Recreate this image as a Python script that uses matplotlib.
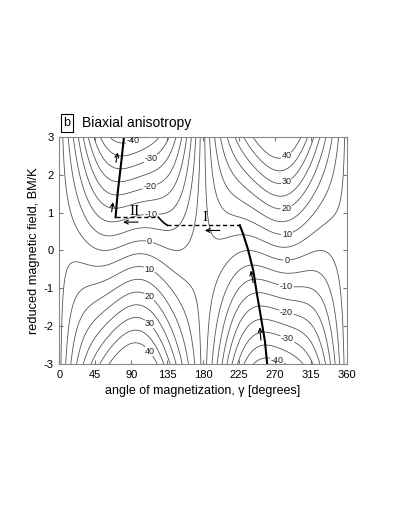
import numpy as np
import matplotlib.pyplot as plt

plt.rcParams['font.family'] = ['Liberation Sans', 'DejaVu Sans']
plt.rcParams['axes.unicode_minus'] = False

# energy surface parameters (biaxial anisotropy + field along 90 deg)
easy_axis_deg = 57.0
energy_scale = 15.0
plain_levels = [-35, -25, -15, -5, 5, 15, 25, 35]
label_levels = [-40, -30, -20, -10, 0, 10, 20, 30, 40]

x_ticks = [0, 45, 90, 135, 180, 225, 270, 315, 360]
y_ticks = [-3, -2, -1, 0, 1, 2, 3]

# contour label positions (gamma, b)
label_pos = [(94, 2.83), (115, 2.41), (113, 1.70), (115, 0.96), (113, 0.23),
             (113, -0.49), (113, -1.21), (113, -1.93), (113, -2.66),
             (284, 2.52), (284, 1.84), (284, 1.14), (285, 0.43), (285, -0.28),
             (284, -0.96), (284, -1.68), (285, -2.37), (274, -2.85)]

# magnetization trajectory branches
left_gamma = [81.0, 78.5, 76.0, 73.0, 70.5]
left_b = [3.0, 2.5, 2.04, 1.5, 0.88]
right_gamma = [260.3, 257.5, 252.4, 247.5, 242.8, 236.0, 230.0, 226.0]
right_b = [-3.0, -2.4, -1.75, -1.15, -0.52, 0.05, 0.45, 0.665]
jump2_gamma = [70.5, 123.0]
jump2_b = [0.89, 0.89]
meta_gamma = [124.0, 127.5, 131.5, 135.5]
meta_b = [0.88, 0.80, 0.72, 0.665]
jump1_gamma = [135.5, 226.0]
jump1_b = [0.665, 0.665]

# arrows: (tail gamma, tail b, head gamma, head b)
arrows = [(71.0, 2.33, 73.1, 2.59), (65.6, 1.02, 67.2, 1.28),
          (242.8, -0.85, 239.9, -0.53), (252.4, -2.37, 251.1, -2.03),
          (98.8, 0.75, 80.0, 0.75), (201.0, 0.53, 182.3, 0.53)]
roman = [('II', 94.7, 1.03), ('I', 182.3, 0.86)]

g = np.linspace(0, 360, 721)
b = np.linspace(-3, 3, 601)
G, B = np.meshgrid(g, b)
E = energy_scale * (0.25 * np.sin(2 * np.radians(G - easy_axis_deg)) ** 2
                    - B * np.sin(np.radians(G)))

fig = plt.figure(figsize=(3.95, 5.11), dpi=100)
ax = fig.add_axes([0.150, 0.2877, 0.728, 0.4442])

ax.contour(G, B, E, levels=plain_levels, colors='#555555', linewidths=0.6,
           negative_linestyles='solid')
cs = ax.contour(G, B, E, levels=label_levels, colors='#555555',
                linewidths=0.6, negative_linestyles='solid')
texts = ax.clabel(cs, fmt='%d', fontsize=6.5, inline=True, inline_spacing=1,
                  manual=label_pos, colors='#222222')
for t in texts:
    t.set_rotation(0)

ax.plot(left_gamma, left_b, color='black', lw=1.5)
ax.plot(right_gamma, right_b, color='black', lw=1.5)
ax.plot(meta_gamma, meta_b, color='black', lw=1.2)
ax.plot(jump2_gamma, jump2_b, color='black', lw=1.0, ls=(0, (3, 2)))
ax.plot(jump1_gamma, jump1_b, color='black', lw=1.0, ls=(0, (3, 2)))

for x0, y0, x1, y1 in arrows:
    ax.annotate('', xy=(x1, y1), xytext=(x0, y0),
                arrowprops=dict(arrowstyle='->', lw=0.8, color='black',
                                shrinkA=0, shrinkB=0, mutation_scale=7))
for txt, x, y in roman:
    ax.text(x, y, txt, family='Liberation Serif', fontsize=11, ha='center',
            va='center')

ax.set_xlim(0, 360)
ax.set_ylim(-3, 3)
ax.set_xticks(x_ticks)
ax.set_yticks(y_ticks)
ax.tick_params(direction='in', top=True, right=True, length=3, labelsize=8,
               color='#777777', pad=4)
for s in ax.spines.values():
    s.set_color('#888888')
    s.set_linewidth(0.8)
ax.set_xlabel('angle of magnetization, γ [degrees]', fontsize=9, labelpad=4)
ax.set_ylabel('reduced magnetic field, BM/K', fontsize=9.2, labelpad=3)

fig.text(0.170, 0.759, 'b', fontsize=9, ha='center', va='center',
         bbox=dict(boxstyle='square,pad=0.22', fc='white', ec='black', lw=0.8))
fig.text(0.207, 0.759, 'Biaxial anisotropy', fontsize=10, ha='left',
         va='center')

fig.savefig('out.png', dpi=100)
